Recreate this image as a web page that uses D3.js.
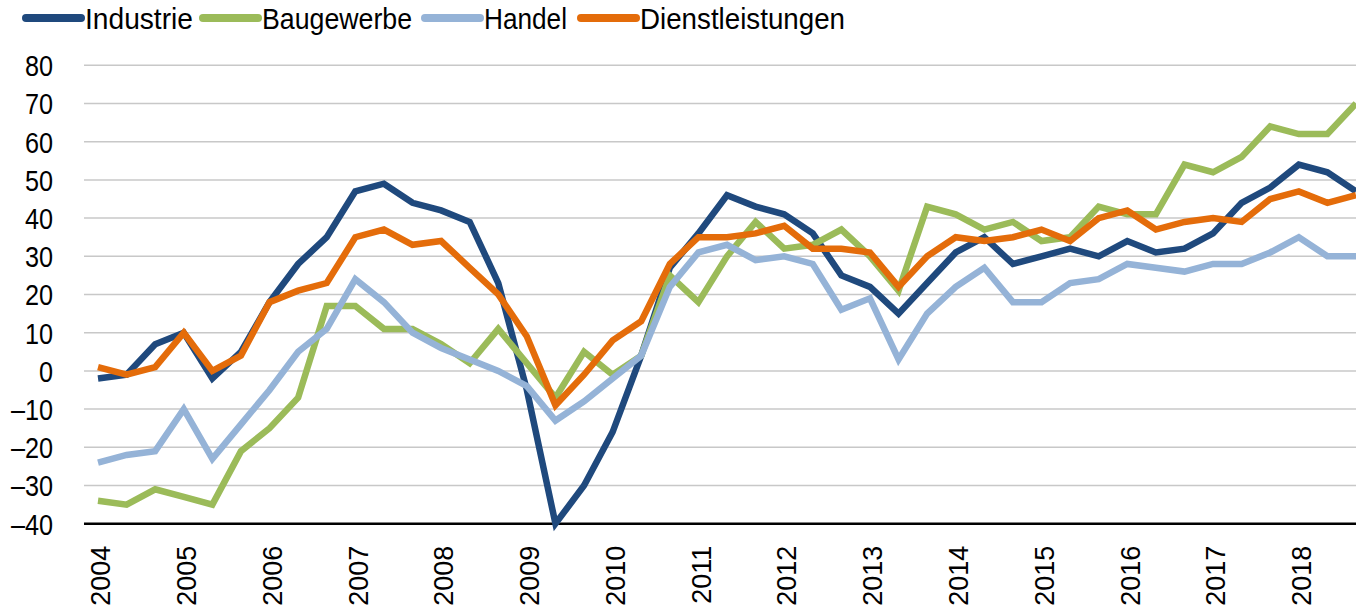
<!DOCTYPE html>
<html>
<head>
<meta charset="utf-8">
<script src="https://cdn.jsdelivr.net/npm/d3@7"></script>
<style>
  body { margin: 0; background: #fff; }
  svg { display: block; }
</style>
</head>
<body>
<script>
// three survey waves per year, 2004 to 2018
var years = ["2004","2005","2006","2007","2008","2009","2010","2011","2012","2013","2014","2015","2016","2017","2018"]
var waves = ["a","b","c"]
var periods = []
years.forEach(function(y){ waves.forEach(function(w){ periods.push(y + w) }) })

var yTicks = [-40,-30,-20,-10,0,10,20,30,40,50,60,70,80]

var seriesNames = ["Industrie","Baugewerbe","Handel","Dienstleistungen"]
var seriesColors = ["#1f497d","#9bbb59","#95b3d7","#e46c0a"]

var industrie = [-2,-1,7,10,-2,5,18,28,35,47,49,44,42,39,23,-5,-40,-30,-16,4,27,36,46,43,41,36,25,22,15,23,31,35,28,30,32,30,34,31,32,36,44,48,54,52,47]
var baugewerbe = [-34,-35,-31,-33,-35,-21,-15,-7,17,17,11,11,7,2,11,2,-7,5,-1,4,25,18,30,39,32,33,37,30,21,43,41,37,39,34,35,43,41,41,54,52,56,64,62,62,70]
var handel = [-24,-22,-21,-10,-23,-14,-5,5,11,24,18,10,6,3,0,-4,-13,-8,-2,4,22,31,33,29,30,28,16,19,3,15,22,27,18,18,23,24,28,27,26,28,28,31,35,30,30]
var dienstleistungen = [1,-1,1,10,0,4,18,21,23,35,37,33,34,27,20,9,-9,-1,8,13,28,35,35,36,38,32,32,31,22,30,35,34,35,37,34,40,42,37,39,40,39,45,47,44,46]

var allSeries = [industrie, baugewerbe, handel, dienstleistungen]

var screen = {width: 1356, height: 609}
var plot = {left: 84, right: 1356, x0: 98, top: 65.3, bottom: 523.7}

var svg = d3.select("body")
    .append("svg")
    .attr("width", screen.width)
    .attr("height", screen.height)

var xScale = d3.scalePoint()
    .domain(periods)
    .range([plot.x0, plot.right])

var yScale = d3.scaleLinear()
    .domain([-40, 80])
    .range([plot.bottom, plot.top])

// gridlines
svg.append("g")
    .selectAll("line")
    .data(yTicks.filter(function(d){ return d > -40 }))
    .enter()
    .append("line")
    .attr("x1", plot.left)
    .attr("x2", plot.right)
    .attr("y1", function(d){ return yScale(d) })
    .attr("y2", function(d){ return yScale(d) })
    .attr("stroke", "#c8c8c8")
    .attr("stroke-width", 1.5)

// y labels (squeezed a bit, the original font is condensed)
var yAxis = d3.axisLeft(yScale)
    .tickValues(yTicks)
    .tickSize(0)
    .tickPadding(0)
    .tickFormat(function(d){ return d < 0 ? "\u2013" + Math.abs(d) : d })

svg.append("g")
    .attr("id", "yAxis")
    .attr("transform", "translate(53,0)")
    .call(yAxis)
    .call(function(g){ g.select(".domain").remove() })
    .selectAll("text")
    .attr("font-family", "'Liberation Sans', Arial, sans-serif")
    .attr("font-size", 29)
    .attr("fill", "#000")
    .attr("x", 0)
    .attr("dy", "0.36em")
    .attr("transform", "scale(0.87,1)")

// x labels, one per year
var xAxis = d3.axisBottom(xScale)
    .tickValues(years.map(function(y){ return y + "a" }))
    .tickSize(0)
    .tickFormat(function(d){ return d.slice(0,4) })

var xg = svg.append("g")
    .attr("id", "xAxis")
    .attr("transform", "translate(0," + plot.bottom + ")")
    .call(xAxis)

xg.select(".domain").remove()

xg.selectAll("text")
    .attr("font-family", "'Liberation Sans', Arial, sans-serif")
    .attr("font-size", 27)
    .attr("fill", "#000")
    .attr("text-anchor", "end")
    .attr("transform", "translate(2,22) rotate(-90)")
    .attr("x", 0)
    .attr("y", 0)
    .attr("dy", "0.36em")

// baseline at -40
svg.append("line")
    .attr("x1", plot.left)
    .attr("x2", plot.right)
    .attr("y1", yScale(-40))
    .attr("y2", yScale(-40))
    .attr("stroke", "#000")
    .attr("stroke-width", 2.5)

var line = d3.line()
    .x(function(d, i){ return xScale(periods[i]) })
    .y(function(d){ return yScale(d) })

svg.append("g")
    .selectAll("path")
    .data(allSeries)
    .enter()
    .append("path")
    .attr("d", line)
    .attr("fill", "none")
    .attr("stroke", function(d, i){ return seriesColors[i] })
    .attr("stroke-width", 6.5)
    .attr("stroke-linejoin", "miter")

// legend across the top
var legendX = [26, 203, 425, 581]
var legendTextW = [108, 150, 83, 205]

var legend = svg.append("g")
    .selectAll("g")
    .data(seriesNames)
    .enter()
    .append("g")
    .attr("transform", function(d, i){ return "translate(" + legendX[i] + ",18)" })

legend.append("line")
    .attr("x1", 0)
    .attr("x2", 55)
    .attr("stroke", function(d, i){ return seriesColors[i] })
    .attr("stroke-width", 8)
    .attr("stroke-linecap", "round")

legend.append("text")
    .attr("x", 59)
    .attr("dy", "0.36em")
    .attr("font-family", "'Liberation Sans', Arial, sans-serif")
    .attr("font-size", 30)
    .attr("fill", "#000")
    .attr("textLength", function(d, i){ return legendTextW[i] })
    .attr("lengthAdjust", "spacingAndGlyphs")
    .text(function(d){ return d })
</script>
</body>
</html>
